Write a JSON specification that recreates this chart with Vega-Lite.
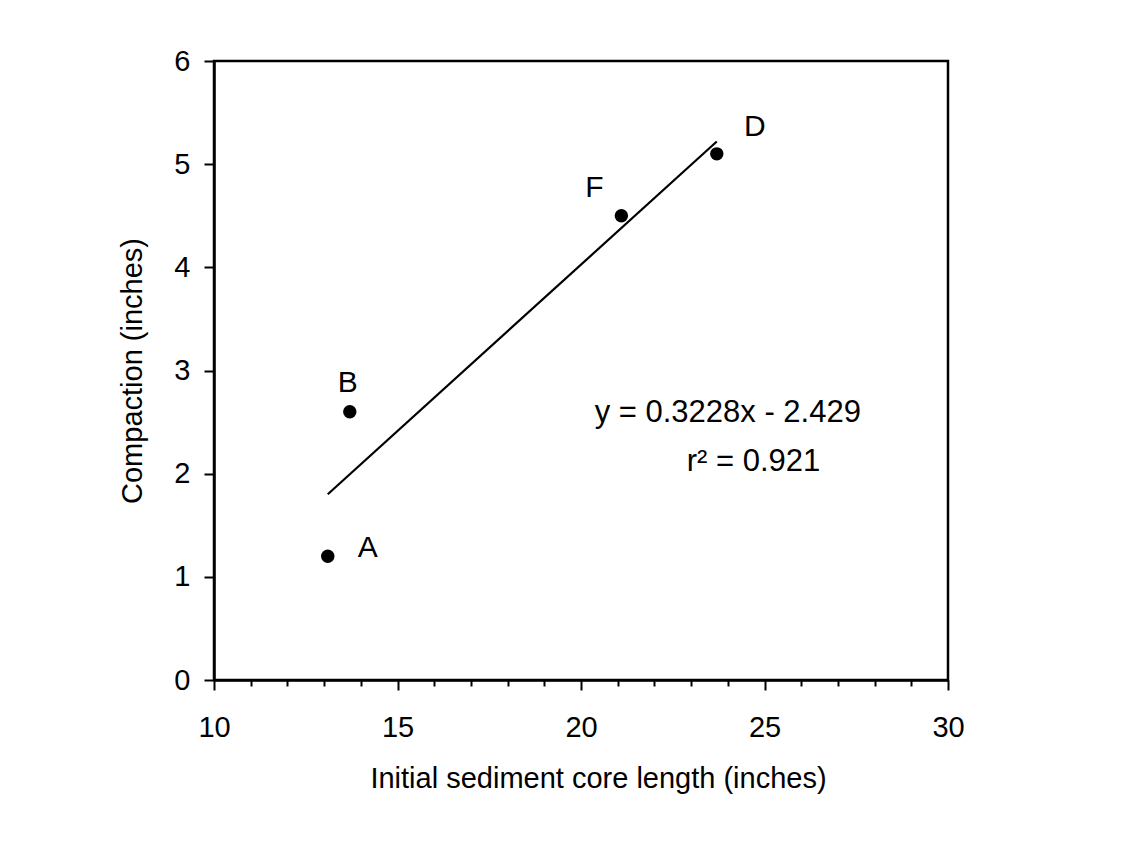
{
  "$schema": "https://vega.github.io/schema/vega-lite/v6.json",
  "width": 734,
  "height": 619,
  "autosize": "none",
  "padding": {"left": 214, "top": 61, "right": 185, "bottom": 181},
  "background": "white",
  "config": {
    "font": "Liberation Sans",
    "view": {"stroke": "black", "strokeWidth": 2.5},
    "axis": {"domainColor": "black", "domainWidth": 2.5, "tickColor": "black", "tickWidth": 2, "labelColor": "black", "titleColor": "black", "labelFont": "Liberation Sans", "titleFont": "Liberation Sans", "labelFontSize": 29, "titleFontSize": 29, "titleFontWeight": "normal", "grid": false}
  },
  "data": {
    "values": [
      {"x": 13.1, "y": 1.2, "label": "A"},
      {"x": 13.7, "y": 2.6, "label": "B"},
      {"x": 21.1, "y": 4.5, "label": "F"},
      {"x": 23.7, "y": 5.1, "label": "D"}
    ]
  },
  "encoding": {
    "x": {"field": "x", "type": "quantitative", "scale": {"domain": [10, 30], "nice": false, "zero": false},
      "axis": {"title": "Initial sediment core length (inches)", "values": [10,11,12,13,14,15,16,17,18,19,20,21,22,23,24,25,26,27,28,29,30],
        "format": "d",
        "tickSize": {"condition": {"test": "datum.value % 5 === 0", "value": 10}, "value": 6},
        "labelExpr": "datum.value % 5 === 0 ? datum.label : ''", "labelPadding": 23, "titlePadding": 22, "titleX": 384, "labelFlush": false, "labelOverlap": false}},
    "y": {"field": "y", "type": "quantitative", "scale": {"domain": [0, 6], "nice": false},
      "axis": {"title": "Compaction (inches)", "values": [0,1,2,3,4,5,6], "format": "d", "tickSize": 10, "labelPadding": 14, "titlePadding": 26, "labelFlush": false}}
  },
  "layer": [
    {
      "data": {"values": [{"x": 13.1, "y": 1.8}, {"x": 23.7, "y": 5.22}]},
      "mark": {"type": "line", "color": "black", "strokeWidth": 2.2}
    },
    {
      "mark": {"type": "circle", "color": "black", "opacity": 1, "size": 180}
    },
    {
      "transform": [{"filter": "datum.label === 'A'"}],
      "mark": {"type": "text", "fontSize": 30, "color": "black", "dx": 40, "dy": -8},
      "encoding": {"text": {"field": "label"}}
    },
    {
      "transform": [{"filter": "datum.label === 'B'"}],
      "mark": {"type": "text", "fontSize": 30, "color": "black", "dx": -2, "dy": -29},
      "encoding": {"text": {"field": "label"}}
    },
    {
      "transform": [{"filter": "datum.label === 'F'"}],
      "mark": {"type": "text", "fontSize": 30, "color": "black", "dx": -27, "dy": -28},
      "encoding": {"text": {"field": "label"}}
    },
    {
      "transform": [{"filter": "datum.label === 'D'"}],
      "mark": {"type": "text", "fontSize": 30, "color": "black", "dx": 38, "dy": -27},
      "encoding": {"text": {"field": "label"}}
    },
    {
      "data": {"values": [{"x": 24.0, "y": 2.59, "t": "y = 0.3228x - 2.429"}, {"x": 24.7, "y": 2.11, "t": "r² = 0.921"}]},
      "mark": {"type": "text", "fontSize": 31, "color": "black", "align": "center", "baseline": "middle"},
      "encoding": {"text": {"field": "t"}}
    }
  ]
}
